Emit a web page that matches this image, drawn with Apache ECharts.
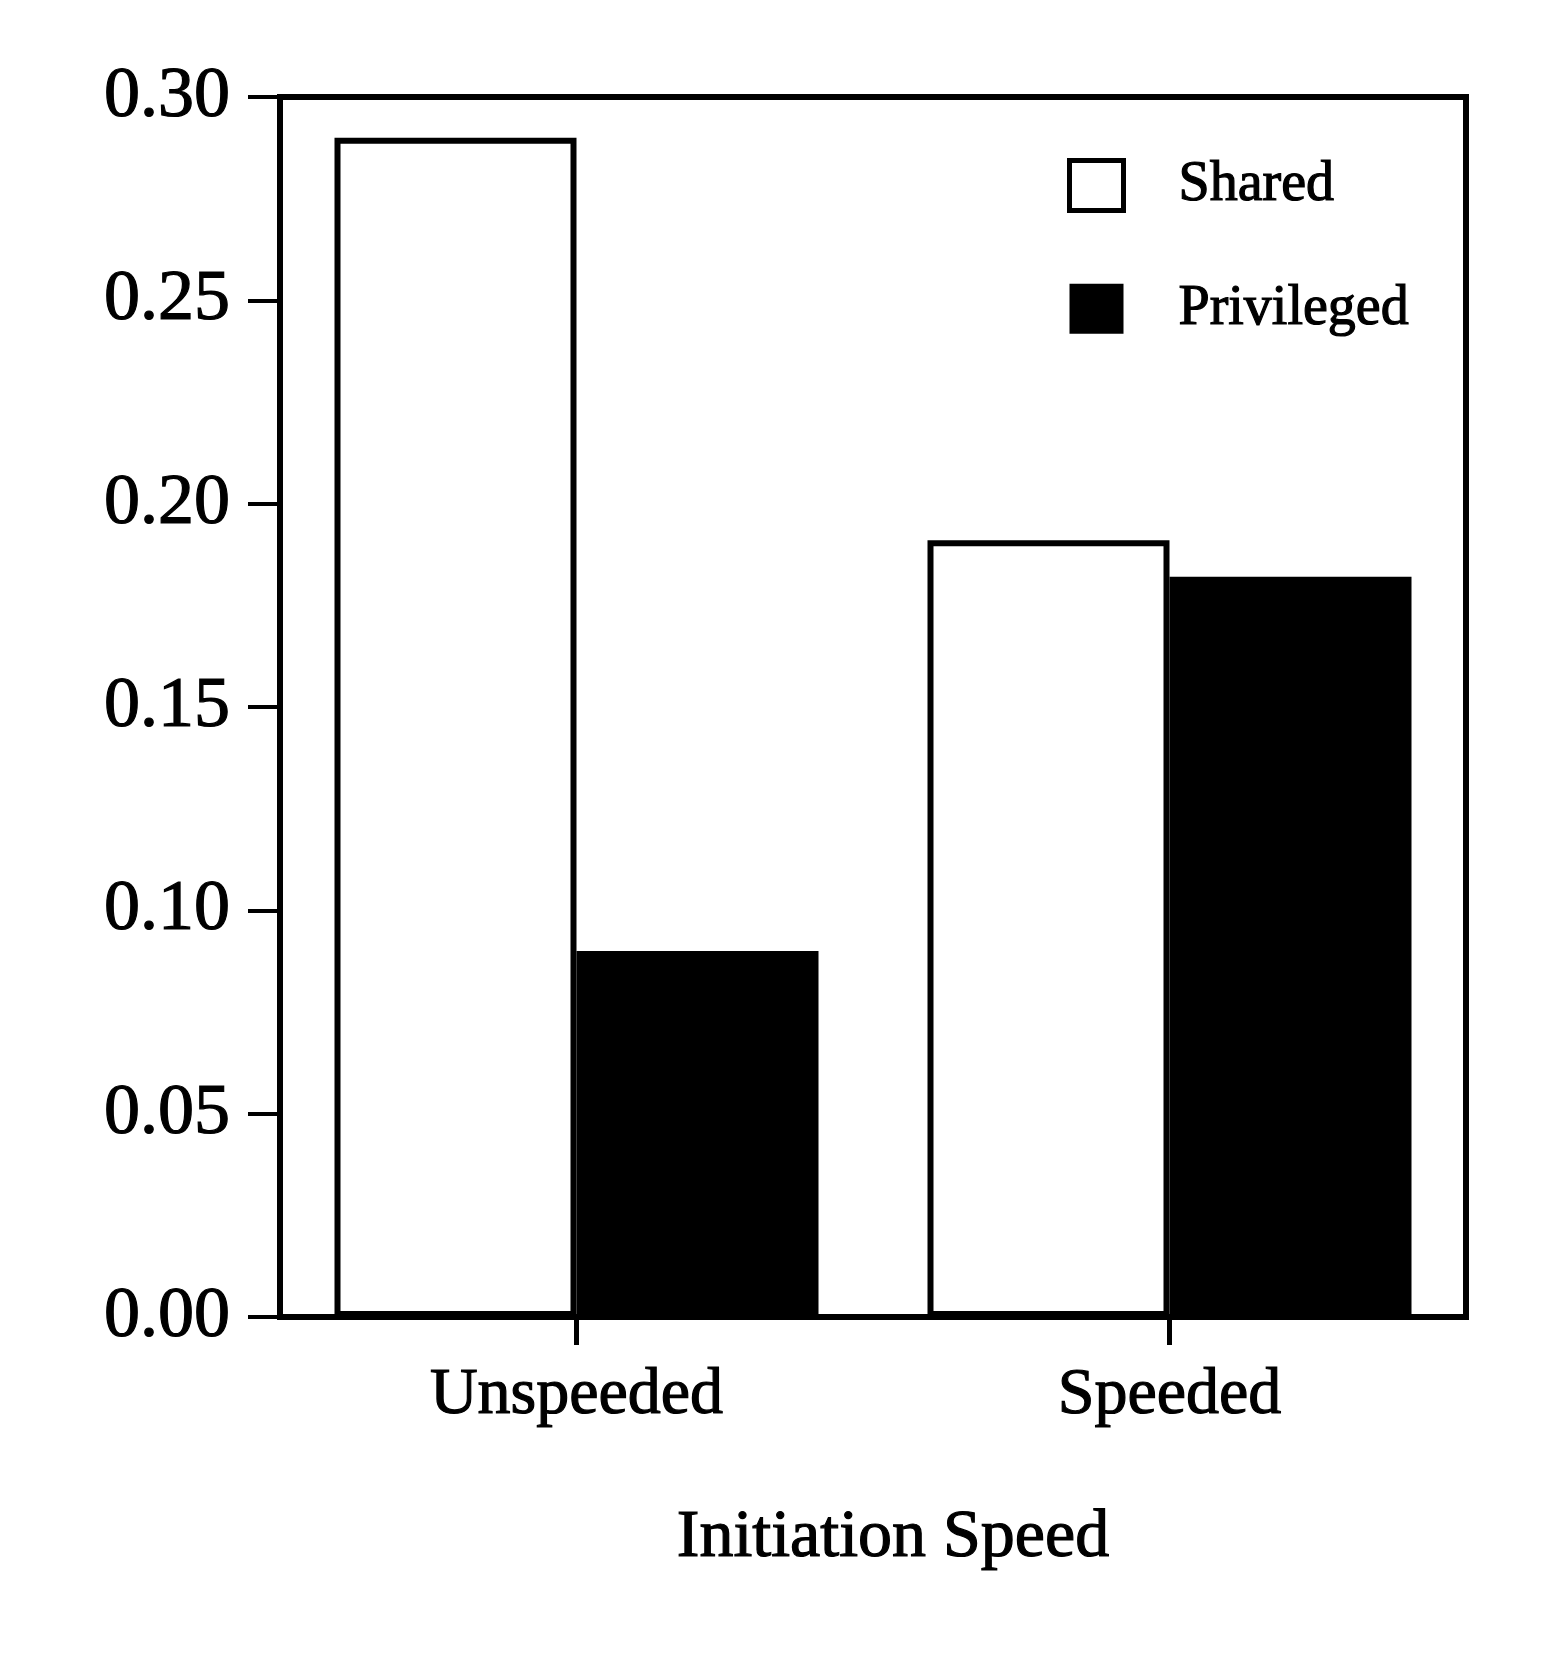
<!DOCTYPE html>
<html>
<head>
<meta charset="utf-8">
<script src="https://cdn.jsdelivr.net/npm/echarts@6/dist/echarts.min.js"></script>
<style>
  html, body { margin: 0; padding: 0; background: #fff; }
  #chart-container { width: 1559px; height: 1671px; }
</style>
</head>
<body>
<div id="chart-container"></div>
<script>
// Categorías y valores
const categories = ['Unspeeded', 'Speeded'];
const sharedValues = [0.29, 0.191];
const privilegedValues = [0.09, 0.182];
const seriesNames = ['Shared', 'Privileged'];

var dom = document.getElementById('chart-container');
var myChart = echarts.init(dom, null, { renderer: 'canvas' });

const font = 'Liberation Serif';
// trazo ligero para imitar la tinta gruesa del escaneo
const ink = { textBorderColor: '#000', textBorderWidth: 1.2 };

var option = {
    backgroundColor: '#fff',
    animation: false,
    textStyle: { fontFamily: font, color: '#000' },
    grid: {
        left: 280,
        right: 93,
        top: 97,
        bottom: 354,
        show: true,
        borderColor: '#000',
        borderWidth: 6
    },
    legend: {
        data: [
            { name: seriesNames[0], itemStyle: { color: '#fff', borderColor: '#000', borderWidth: 5 } },
            { name: seriesNames[1], itemStyle: { color: '#000', borderColor: '#000', borderWidth: 0 } }
        ],
        orient: 'vertical',
        icon: 'rect',
        left: 1062,
        top: 152,
        itemWidth: 54,
        itemHeight: 50,
        itemGap: 66,
        textStyle: Object.assign({
            fontFamily: font,
            fontSize: 56,
            color: '#000',
            lineHeight: 50,
            padding: [0, 0, 0, 50]
        }, ink)
    },
    xAxis: {
        type: 'category',
        data: categories,
        name: 'Initiation Speed',
        nameLocation: 'middle',
        nameGap: 187,
        nameTextStyle: Object.assign({ fontFamily: font, fontSize: 68, color: '#000', padding: [0, 0, 0, 40] }, ink),
        axisLine: { show: true, lineStyle: { color: '#000', width: 6 } },
        axisTick: { show: true, alignWithLabel: true, interval: 0, length: 28, lineStyle: { color: '#000', width: 5 } },
        axisLabel: Object.assign({ fontFamily: font, fontSize: 66, color: '#000', margin: 46 }, ink),
        z: 10
    },
    yAxis: {
        type: 'value',
        min: 0,
        max: 0.3,
        interval: 0.05,
        splitLine: { show: false },
        axisLine: { show: true, lineStyle: { color: '#000', width: 6 } },
        axisTick: { show: true, length: 32, lineStyle: { color: '#000', width: 4 } },
        axisLabel: Object.assign({
            fontFamily: font,
            fontSize: 72,
            color: '#000',
            margin: 50,
            padding: [10, 0, 0, 0],
            formatter: function (v) { return v.toFixed(2); }
        }, ink)
    },
    series: [
        {
            name: seriesNames[0],
            type: 'bar',
            barWidth: 242,
            barGap: '0%',
            itemStyle: { color: '#fff', borderColor: '#000', borderWidth: 6 },
            data: sharedValues
        },
        {
            name: seriesNames[1],
            type: 'bar',
            barWidth: 242,
            itemStyle: { color: '#000', borderColor: '#000', borderWidth: 0 },
            data: privilegedValues
        }
    ]
};

myChart.setOption(option);
</script>
</body>
</html>
